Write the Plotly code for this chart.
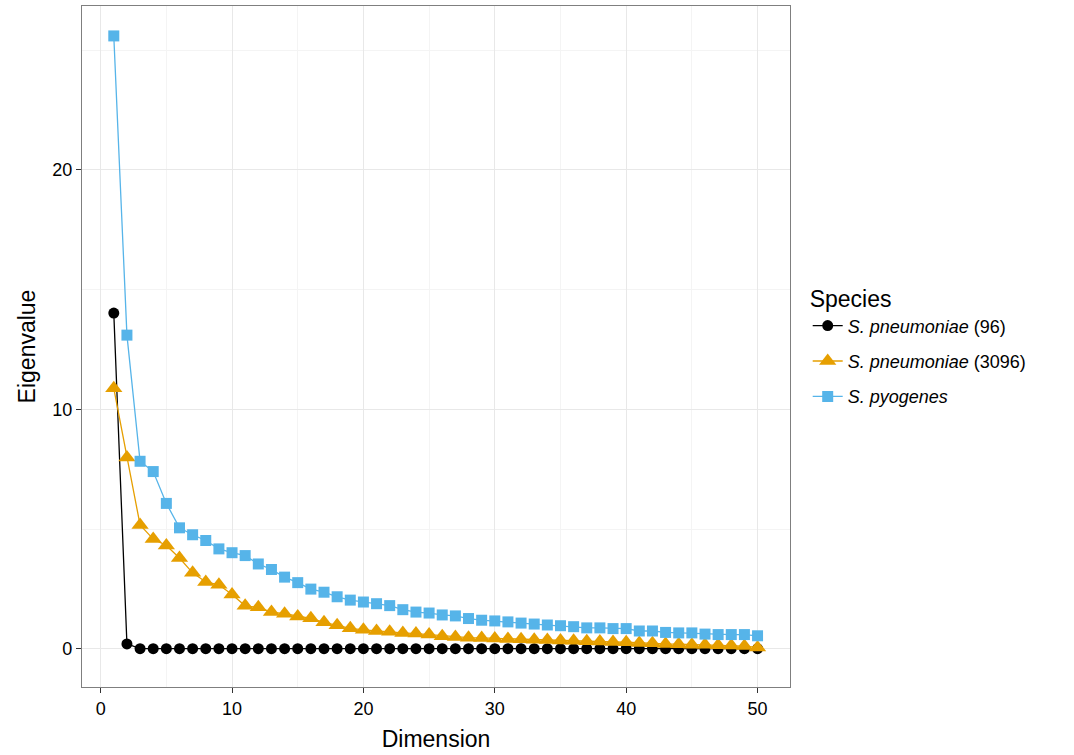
import plotly.graph_objects as go

dimension = list(range(1, 51))

pneumo_96 = [14.02, 0.2] + [0.0] * 48

pneumo_3096 = [10.88, 7.99, 5.17, 4.58, 4.31, 3.79, 3.17, 2.79, 2.67, 2.26,
               1.79, 1.73, 1.53, 1.46, 1.35, 1.27, 1.10, 0.98, 0.85, 0.79,
               0.74, 0.71, 0.66, 0.63, 0.59, 0.52, 0.49, 0.46, 0.45, 0.43,
               0.41, 0.40, 0.37, 0.36, 0.34, 0.33, 0.31, 0.30, 0.28, 0.27,
               0.24, 0.23, 0.20, 0.19, 0.17, 0.16, 0.14, 0.13, 0.11, 0.05]

pyogenes = [25.6, 13.1, 7.83, 7.40, 6.07, 5.05, 4.76, 4.52, 4.17, 4.01,
            3.89, 3.54, 3.31, 2.99, 2.76, 2.49, 2.36, 2.17, 2.03, 1.95,
            1.88, 1.80, 1.63, 1.53, 1.49, 1.41, 1.37, 1.26, 1.19, 1.16,
            1.12, 1.07, 1.03, 0.99, 0.96, 0.92, 0.87, 0.87, 0.84, 0.84,
            0.74, 0.74, 0.68, 0.66, 0.66, 0.61, 0.59, 0.59, 0.59, 0.54]

series_names = ["<i>S. pneumoniae</i> (96)", "<i>S. pneumoniae</i> (3096)", "<i>S. pyogenes</i>"]
colors = ["#000000", "#E69F00", "#56B4E9"]
symbols = ["circle", "triangle-up", "square"]
sizes = [11, 15, 11]
values = [pneumo_96, pneumo_3096, pyogenes]

font_family = "Liberation Sans, Arial, sans-serif"

fig = go.Figure()
for i, (name, vals, col, sym, sz) in enumerate(zip(series_names, values, colors, symbols, sizes)):
    fig.add_trace(go.Scatter(
        x=dimension, y=vals, name=name, mode="lines+markers",
        legendgroup=f"g{i}",
        line=dict(color=col, width=1.3),
        marker=dict(color=col, symbol=sym, size=sz, line=dict(width=0)),
    ))

axis_common = dict(
    showgrid=True, gridcolor="#e8e8e8", gridwidth=1,
    zeroline=False, showline=True, linecolor="#7f7f7f", linewidth=1.3,
    mirror=True, ticks="outside", ticklen=5, tickcolor="#333333", tickwidth=1,
    tickfont=dict(size=18, color="#000000", family=font_family),
)

fig.update_xaxes(
    range=[-1.42, 52.47], tickmode="array", tickvals=[0, 10, 20, 30, 40, 50],
    title=dict(text="Dimension", font=dict(size=23, color="#000000"), standoff=13),
    minor=dict(showgrid=True, gridcolor="#f4f4f4", tickvals=[5, 15, 25, 35, 45], ticks=""),
    **axis_common,
)
fig.update_yaxes(
    range=[-1.6, 26.85], tickmode="array", tickvals=[0, 10, 20],
    title=dict(text="Eigenvalue", font=dict(size=23, color="#000000"), standoff=10),
    minor=dict(showgrid=True, gridcolor="#f4f4f4", tickvals=[5, 15, 25], ticks=""),
    **axis_common,
)

fig.update_layout(
    width=1074, height=755,
    margin=dict(l=82, r=284, t=6, b=68),
    paper_bgcolor="white", plot_bgcolor="white",
    font=dict(family=font_family, color="#000000"),
    legend=dict(
        title=dict(text="Species", font=dict(size=23)),
        font=dict(size=18),
        x=1.025, xanchor="left", y=0.50, yanchor="middle",
        bgcolor="rgba(0,0,0,0)", itemwidth=30,
        tracegroupgap=9,
    ),
)

fig.write_html("out.html", config={"displayModeBar": False},
               post_script="document.body.style.margin='0';")
